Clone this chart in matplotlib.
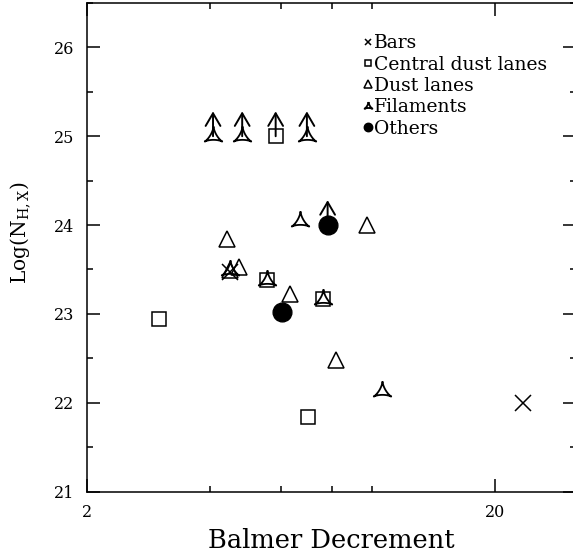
import numpy as np
import matplotlib
matplotlib.use("Agg")
import matplotlib.pyplot as plt
from matplotlib.ticker import FixedLocator, NullFormatter

plt.rcParams["font.family"] = ["DejaVu Serif"]
plt.rcParams["mathtext.fontset"] = "dejavuserif"

# data (Balmer decrement, log N_H,X); *_lim marks lower limits
bars_x = [4.49, 23.4]
bars_y = [23.47, 22.0]

cdl_x = [3.01, 5.52, 7.60, 6.96, 5.81]
cdl_y = [22.94, 23.38, 23.17, 21.84, 25.0]
cdl_lim = [False, False, False, False, True]

dl_x = [4.41, 4.49, 4.73, 6.30, 9.73, 8.15]
dl_y = [23.84, 23.49, 23.53, 23.22, 24.0, 22.48]

fil_x = [4.49, 5.52, 7.60, 6.67, 10.57, 4.08, 4.81, 6.93]
fil_y = [23.49, 23.38, 23.17, 24.05, 22.13, 25.0, 25.0, 25.0]
fil_lim = [False, False, False, False, False, True, True, True]

oth_x = [6.02, 7.79]
oth_y = [23.02, 24.0]
oth_lim = [False, True]

# concave three-cusp "filament" symbol (deltoid, cusp up)
t = np.linspace(0, 2 * np.pi, 121)
dx = 2 * np.cos(t) + np.cos(2 * t)
dy = 2 * np.sin(t) - np.sin(2 * t)
rot = np.pi / 2
fil_marker = np.column_stack([dx * np.cos(rot) - dy * np.sin(rot),
                              dx * np.sin(rot) + dy * np.cos(rot)])


def add_limits(ax, xs, ys, lims):
    for x, y, lim in zip(xs, ys, lims):
        if lim:
            ax.annotate("", xy=(x, y + 0.28), xytext=(x, y),
                        arrowprops=dict(arrowstyle="->,head_length=0.65,head_width=0.38",
                                        lw=1.4, color="black", mutation_scale=14,
                                        shrinkA=0, shrinkB=0))


def main():
    fig = plt.figure(figsize=(5.73, 5.56), dpi=100)
    ax = fig.add_axes([0.1513, 0.116, 1.005 - 0.1513, 0.9946 - 0.116])

    ax.set_xscale("log")
    ax.set_xlim(2, 10 ** 1.5)
    ax.set_ylim(21, 26.5)

    mk = dict(linestyle="none", color="black", markerfacecolor="none", markeredgewidth=1.1)
    ax.plot(bars_x, bars_y, marker="x", markersize=11, label="Bars", **mk)
    ax.plot(cdl_x, cdl_y, marker="s", markersize=10, label="Central dust lanes", **mk)
    ax.plot(dl_x, dl_y, marker="^", markersize=12, label="Dust lanes", **mk)
    ax.plot(fil_x, fil_y, marker=fil_marker, markersize=14.5, label="Filaments",
            linestyle="none", color="black", markerfacecolor="none", markeredgewidth=1.3)
    ax.plot(oth_x, oth_y, marker="o", markersize=13.5, linestyle="none", color="black",
            label="Others")

    add_limits(ax, cdl_x, cdl_y, cdl_lim)
    add_limits(ax, fil_x, fil_y, fil_lim)
    add_limits(ax, oth_x, oth_y, oth_lim)

    ax.xaxis.set_major_locator(FixedLocator([2, 20]))
    ax.xaxis.set_minor_locator(FixedLocator([4, 6, 8, 10]))
    ax.xaxis.set_minor_formatter(NullFormatter())
    ax.set_xticklabels(["2", "20"])
    ax.yaxis.set_major_locator(FixedLocator([21, 22, 23, 24, 25, 26]))
    ax.yaxis.set_minor_locator(FixedLocator([21.5, 22.5, 23.5, 24.5, 25.5, 26.5]))

    ax.tick_params(which="both", direction="in", top=True, right=True, width=1.1,
                   labelsize=11.5)
    ax.tick_params(which="major", length=9.5, pad=9)
    ax.tick_params(which="minor", length=4.5)
    for s in ax.spines.values():
        s.set_linewidth(1.1)

    ax.set_xlabel("Balmer Decrement", fontsize=18.5, labelpad=5)
    ax.set_ylabel(r"Log(N$_{\rm H,X}$)", fontsize=14.5)
    ax.yaxis.set_label_coords(-0.112, 0.53)

    ax.legend(loc="upper left", bbox_to_anchor=(0.565, 0.936), frameon=False,
              fontsize=13.5, markerscale=0.45, handlelength=0.5, handletextpad=0.1,
              labelspacing=0.18, borderpad=0, borderaxespad=0)

    fig.savefig("out.png", dpi=100)
    plt.close(fig)


if __name__ == "__main__":
    main()
